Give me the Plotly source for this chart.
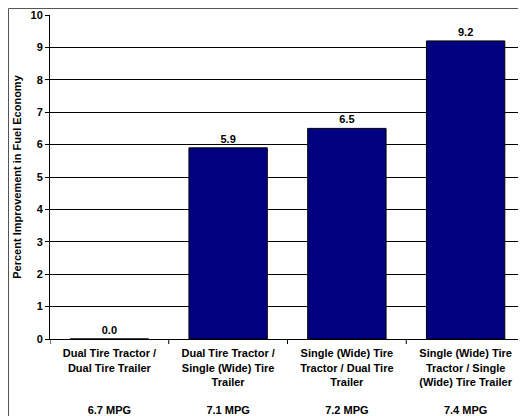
import plotly.graph_objects as go

categorias = [
    "Dual Tire Tractor /<br>Dual Tire Trailer",
    "Dual Tire Tractor /<br>Single (Wide) Tire<br>Trailer",
    "Single (Wide) Tire<br>Tractor / Dual Tire<br>Trailer",
    "Single (Wide) Tire<br>Tractor / Single<br>(Wide) Tire Trailer",
]
mpg = ["6.7 MPG", "7.1 MPG", "7.2 MPG", "7.4 MPG"]
mejora = [0.0, 5.9, 6.5, 9.2]

# Etiquetas con las lineas de MPG alineadas abajo
etiquetas = []
for c, m in zip(categorias, mpg):
    n = c.count("<br>") + 1
    etiquetas.append(c + "<br>" * (4 - n) + "<br>" + m)

W, H = 526, 416
ml, mr, mt, mb = 42, 9, 7, 85
pw, ph = W - ml - mr, H - mt - mb

fig = go.Figure(go.Bar(
    x=list(range(len(mejora))),
    y=mejora,
    width=0.66,
    marker=dict(color="#000080", line=dict(color="black", width=1)),
    text=[f"{v:.1f}" for v in mejora],
    textposition="outside",
    cliponaxis=False,
    textfont=dict(color="black", size=11, family="Liberation Sans"),
))
fig.update_layout(
    width=W, height=H,
    margin=dict(l=ml, r=mr, t=mt, b=mb, autoexpand=False),
    paper_bgcolor="white", plot_bgcolor="white",
    font=dict(family="Liberation Sans", size=11, color="black", weight="bold"),
    showlegend=False,
    xaxis=dict(
        tickmode="array", tickvals=list(range(len(mejora))), ticktext=etiquetas,
        range=[-0.5, 3.5], showline=True, linecolor="black", mirror=False,
        ticks="", showgrid=False, tickfont=dict(size=11), automargin=False,
        ticklabelstandoff=4,
    ),
    yaxis=dict(
        range=[0, 10], dtick=1, showgrid=True, gridcolor="black", gridwidth=1,
        showline=True, linecolor="black", ticks="outside", ticklen=4,
        tickcolor="black", zeroline=False, automargin=False,
        title=dict(text="Percent Improvement in Fuel Economy", standoff=6,
                   font=dict(size=11)),
    ),
    shapes=[
        dict(type="rect", xref="paper", yref="paper",
             x0=-(ml - 0.5) / pw, x1=1 + (mr - 0.5) / pw,
             y0=-(mb - 0.5) / ph, y1=1 + (mt - 0.5) / ph,
             line=dict(color="#555555", width=1)),
        dict(type="line", xref="paper", yref="paper", x0=1, x1=1, y0=0, y1=1,
             line=dict(color="black", width=1)),
    ] + [
        dict(type="line", xref="x", yref="paper", x0=i + 0.5, x1=i + 0.5,
             y0=0, y1=-5 / ph, line=dict(color="black", width=1))
        for i in range(-1, len(mejora))
    ],
)

fig.write_html("out.html")
